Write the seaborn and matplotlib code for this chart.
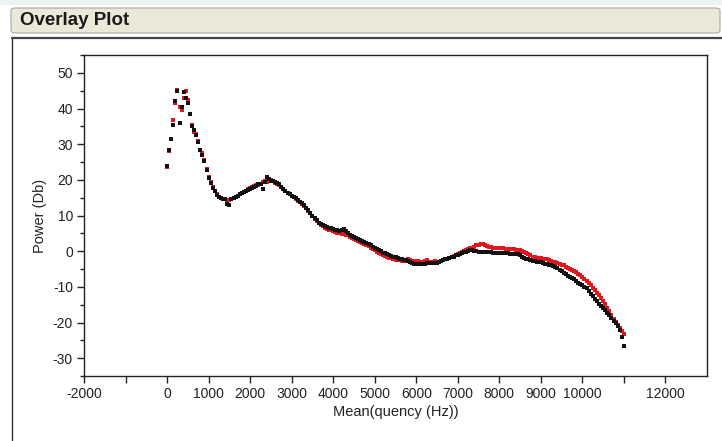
import matplotlib
matplotlib.use("Agg")
import matplotlib.pyplot as plt
from matplotlib.patches import Rectangle, FancyBboxPatch
from matplotlib.ticker import MultipleLocator, FixedLocator
import numpy as np
import pandas as pd
import seaborn as sns

# frequency grid of the measurements (Hz), 50 Hz apart from 0 to 11000
freq = list(range(0, 11001, 50))

# Power (Db) of the black series, one row per 1000 Hz
power_black = [
    24.0, 28.5, 31.5, 35.5, 42.0, 45.0, 36.0, 40.5, 44.5, 43.0,
    41.5, 38.5, 35.0, 34.0, 32.5, 30.5, 28.5, 27.0, 25.3, 22.8, 20.5,
    19.0, 17.8, 16.8, 15.8, 15.2, 14.8, 14.6, 14.5, 13.2, 13.0,
    14.5, 15.0, 15.2, 15.6, 16.0, 16.2, 16.6, 16.9, 17.2, 17.5,
    17.8, 18.0, 18.4, 18.8, 18.9, 17.4, 19.5, 20.8, 20.3, 19.8,
    19.6, 19.4, 19.2, 18.8, 18.0, 17.4, 16.8, 16.3, 15.9, 15.5,
    15.2, 14.9, 14.4, 13.9, 13.4, 13.0, 12.2, 11.5, 10.8, 10.0,
    9.3, 8.6, 8.0, 7.6, 7.2, 7.0, 6.8, 6.6, 6.4, 6.2,
    6.0, 5.9, 5.7, 5.9, 6.2, 5.6, 5.0, 4.6, 4.3, 4.0,
    3.8, 3.5, 3.2, 2.9, 2.6, 2.4, 2.0, 1.6, 1.2, 0.9,
    0.6, 0.3, 0.0, -0.4, -0.6, -0.8, -1.1, -1.3, -1.5, -1.7,
    -1.9, -2.1, -2.3, -2.5, -2.6, -2.8, -3.1, -3.3, -3.5, -3.6,
    -3.6, -3.7, -3.6, -3.5, -3.4, -3.4, -3.3, -3.3, -3.2, -3.2,
    -2.9, -2.7, -2.6, -2.3, -2.2, -1.9, -1.7, -1.5, -1.2, -1.0,
    -0.8, -0.6, -0.3, -0.1, 0.1, 0.3, 0.3, 0.1, 0.0, -0.1,
    -0.1, -0.2, -0.2, -0.3, -0.3, -0.3, -0.4, -0.4, -0.5, -0.5,
    -0.6, -0.6, -0.6, -0.6, -0.7, -0.7, -0.8, -0.8, -0.9, -1.2,
    -1.5, -1.8, -2.1, -2.3, -2.5, -2.7, -2.8, -2.9, -3.0, -3.1,
    -3.3, -3.5, -3.7, -3.8, -3.9, -4.1, -4.4, -4.8, -5.2, -5.6,
    -6.1, -6.5, -6.9, -7.2, -7.5, -7.8, -8.3, -8.9, -9.2, -9.6,
    -10.0, -10.4, -11.1, -11.9, -12.7, -13.4, -14.1, -14.8, -15.4, -15.9,
    -16.4, -17.2, -18.0, -18.8, -19.5, -20.2, -21.0, -22.0, -24.0, -26.5,
]

# Power (Db) of the red series
power_red = [
    23.5, 28.0, 31.5, 36.8, 41.5, 45.2, 40.5, 39.5, 43.0, 45.0,
    42.5, 38.5, 35.5, 33.5, 32.8, 31.0, 28.5, 27.5, 25.5, 23.0, 20.8,
    19.3, 18.0, 17.0, 16.0, 15.3, 14.9, 14.6, 14.5, 14.4, 14.4,
    14.6, 14.9, 15.2, 15.6, 16.0, 16.3, 16.6, 17.0, 17.3, 17.6,
    17.9, 18.2, 18.5, 18.6, 18.9, 19.3, 19.8, 19.5, 19.9, 20.0,
    19.6, 19.2, 18.9, 18.5, 18.0, 17.5, 17.0, 16.4, 16.0, 15.6,
    15.1, 14.7, 14.2, 13.8, 13.3, 12.8, 12.1, 11.4, 10.7, 9.9,
    9.1, 8.4, 7.9, 7.4, 7.0, 6.6, 6.3, 6.0, 5.8, 5.6,
    5.4, 5.2, 5.0, 4.9, 4.8, 4.6, 4.4, 4.1, 3.8, 3.5,
    3.2, 2.9, 2.6, 2.3, 2.0, 1.7, 1.4, 1.0, 0.6, 0.2,
    -0.1, -0.4, -0.7, -1.0, -1.3, -1.5, -1.8, -2.0, -2.2, -2.4,
    -2.5, -2.6, -2.7, -2.8, -2.6, -2.3, -2.5, -2.8, -2.9, -2.8,
    -2.7, -2.9, -3.0, -2.8, -2.6, -2.9, -3.1, -3.0, -2.8, -2.9,
    -3.0, -2.8, -2.5, -2.3, -2.1, -1.8, -1.5, -1.3, -1.1, -0.8,
    -0.6, -0.3, 0.0, 0.3, 0.6, 0.8, 1.0, 1.3, 1.6, 1.8,
    1.9, 1.9, 1.7, 1.4, 1.2, 1.1, 1.0, 1.0, 0.9, 0.9,
    0.8, 0.8, 0.7, 0.6, 0.6, 0.5, 0.5, 0.4, 0.3, 0.2,
    0.1, -0.1, -0.4, -0.8, -1.2, -1.5, -1.7, -1.8, -1.9, -2.0,
    -2.1, -2.2, -2.3, -2.5, -2.7, -2.9, -3.1, -3.3, -3.5, -3.8,
    -4.0, -4.3, -4.6, -4.9, -5.2, -5.5, -5.9, -6.3, -6.8, -7.3,
    -7.8, -8.3, -8.9, -9.5, -10.2, -10.9, -11.6, -12.4, -13.2, -14.0,
    -14.9, -15.9, -16.9, -17.9, -18.9, -19.8, -20.7, -21.5, -22.3, -23.2,
]

x_ticks = list(range(-2000, 12001, 1000))
x_labels = ["" if t in (-1000, 11000) else str(t) for t in x_ticks]
y_ticks = [-30, -20, -10, 0, 10, 20, 30, 40, 50]

W, H = 722, 441


def main():
    sns.set_theme(style="white")
    plt.rcParams['font.family'] = ['Liberation Sans', 'DejaVu Sans']
    plt.rcParams['axes.unicode_minus'] = False

    df_black = pd.DataFrame({"freq": freq, "power": power_black})
    df_red = pd.DataFrame({"freq": freq, "power": power_red})

    fig = plt.figure(figsize=(W / 100, H / 100), dpi=100)
    fig.patch.set_facecolor("white")

    # window chrome: top strip, title bar and panel outline
    fig.add_artist(Rectangle((0, 1 - 5 / H), 1, 5 / H, transform=fig.transFigure,
                             facecolor="#edf2f2", edgecolor="none"))
    fig.add_artist(FancyBboxPatch((11 / W, 1 - 33 / H), 709 / W, 25 / H,
                                  boxstyle="round,pad=0,rounding_size=0.006",
                                  transform=fig.transFigure, facecolor="#ebe8da",
                                  edgecolor="#a8a8a0", linewidth=0.8))
    fig.text(20 / W, 1 - 20.5 / H, "Overlay Plot", fontsize=13.5, fontweight="bold",
             color="#1a1a1a", va="center", ha="left")
    fig.add_artist(plt.Line2D([12 / W, 12 / W], [0, 1 - 37 / H], transform=fig.transFigure,
                              color="#333333", linewidth=1.0))
    fig.add_artist(plt.Line2D([12 / W, 1], [1 - 37.5 / H, 1 - 37.5 / H], transform=fig.transFigure,
                              color="#444444", linewidth=1.6))

    ax = fig.add_axes([84 / W, 1 - 376 / H, (707 - 84) / W, (376 - 55) / H])
    sns.scatterplot(data=df_red, x="freq", y="power", ax=ax, marker="s", s=5.2,
                    color="#e3161c", linewidth=0, legend=False)
    sns.scatterplot(data=df_black, x="freq", y="power", ax=ax, marker="s", s=5.2,
                    color="#111111", linewidth=0, legend=False)

    ax.set_xlim(-2000, 13000)
    ax.set_ylim(-35, 55)
    ax.xaxis.set_major_locator(FixedLocator(x_ticks))
    ax.set_xticklabels(x_labels)
    ax.yaxis.set_major_locator(FixedLocator(y_ticks))
    ax.yaxis.set_minor_locator(MultipleLocator(5))
    ax.tick_params(axis="both", which="major", direction="out", length=5, width=1,
                   labelsize=10, color="#222222", labelcolor="#222222", pad=3,
                   bottom=True, left=True)
    ax.tick_params(axis="y", which="minor", direction="out", length=3, width=1,
                   color="#222222", left=True)
    for s in ax.spines.values():
        s.set_color("#222222")
        s.set_linewidth(1.0)

    ax.set_xlabel("Mean(quency (Hz))", fontsize=10.5, color="#222222", labelpad=3)
    ax.set_ylabel("Power (Db)", fontsize=10.5, color="#222222", labelpad=4)

    fig.savefig("out.png", dpi=100)


if __name__ == "__main__":
    main()
